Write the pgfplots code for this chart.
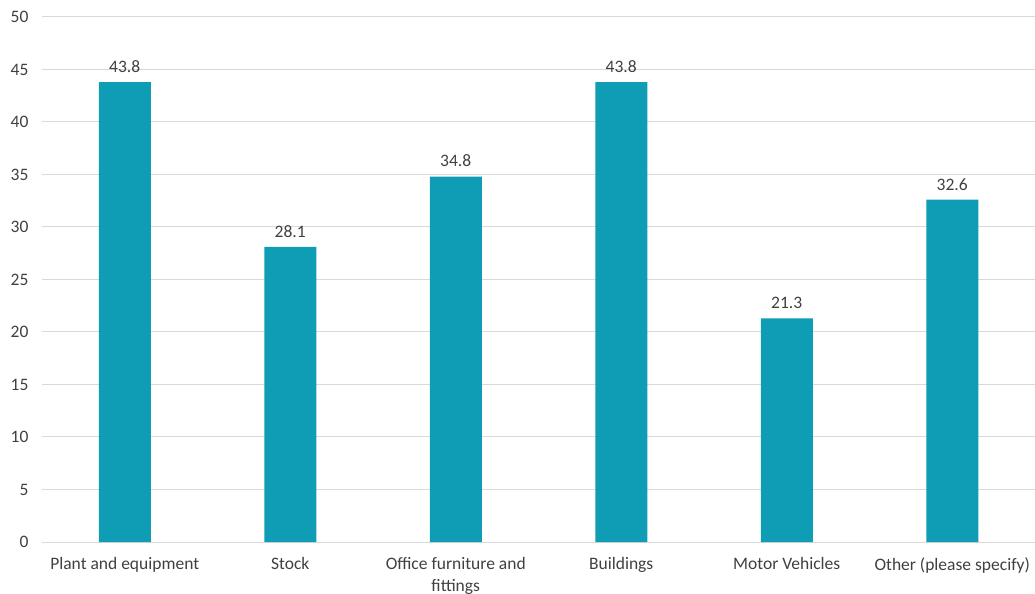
\documentclass[border=0pt]{standalone}
\usepackage{pgfplots}
\pgfplotsset{compat=1.18}
\usepackage{fontspec}
\setmainfont{Carlito}
\definecolor{barc}{RGB}{14,157,181}
\definecolor{gridc}{RGB}{217,217,217}
\definecolor{txt}{RGB}{64,64,64}
\begin{document}
\begin{tikzpicture}
\useasboundingbox (0,0) rectangle (1035bp,594bp);
\begin{axis}[
  at={(42bp,52bp)}, anchor=south west,
  scale only axis,
  width=993bp, height=525bp,
  xmin=-0.5, xmax=5.5,
  ymin=0, ymax=50,
  ytick={0,5,...,50},
  xtick=data,
  xticklabels={Plant and equipment,Stock,{Office furniture and\\fittings},Buildings,Motor Vehicles,Other (please specify)},
  xticklabel style={align=center, text=txt, font=\fontsize{17.5bp}{22bp}\selectfont, anchor=north, yshift=-12bp},
  yticklabel style={text=txt, font=\fontsize{17.5bp}{20bp}\selectfont, anchor=east, xshift=-10bp},
  /pgf/number format/assume math mode=true,
  ymajorgrids,
  grid style={gridc, line width=1bp},
  axis line style={draw=none},
  major tick length=0pt,
  ybar,
  bar width=52bp,
  nodes near coords,
  nodes near coords style={text=txt, font=\fontsize{17.5bp}{20bp}\selectfont, yshift=6bp,
    /pgf/number format/fixed, /pgf/number format/fixed zerofill, /pgf/number format/precision=1},
  clip=false,
]
\addplot[fill=barc, draw=none] coordinates {(0,43.8) (1,28.1) (2,34.8) (3,43.8) (4,21.3) (5,32.6)};
\end{axis}
\end{tikzpicture}
\end{document}
